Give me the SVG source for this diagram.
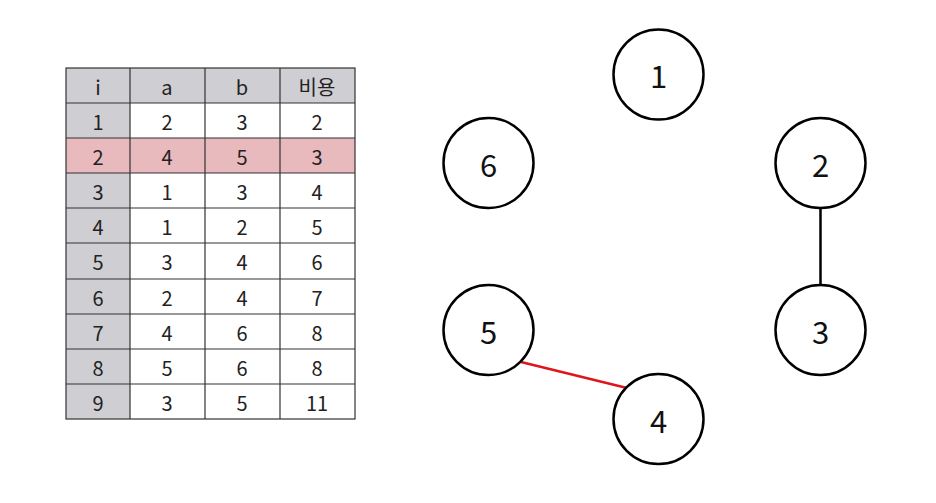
<svg xmlns="http://www.w3.org/2000/svg" width="936" height="503" viewBox="0 0 936 503">
<style>
.t{font-family:"Noto Sans CJK KR","Noto Sans",sans-serif;font-size:20px;fill:#222;text-anchor:middle;dominant-baseline:central}
.n{font-family:"Noto Sans CJK KR","Noto Sans",sans-serif;font-size:31px;fill:#111;text-anchor:middle;dominant-baseline:central}
.c{fill:#fff;stroke:#000;stroke-width:2.5}
.g{fill:#cfced2}
.hl{fill:#e8b9bd}
.grid{stroke:#333;stroke-width:1.2;fill:none}
</style>
<rect width="936" height="503" fill="#fff"/>
<g id="table">
<rect x="66" y="68" width="289" height="35" class="g"/>
<rect x="66" y="103" width="64" height="316" class="g"/>
<rect x="66" y="138" width="289" height="35" class="hl"/>
<g class="grid">
<rect x="66" y="68" width="289" height="351"/>
<path d="M130 68V419M205 68V419M280 68V419"/>
<path d="M66 103H355M66 138H355M66 173H355M66 208H355M66 243H355M66 279H355M66 314H355M66 349H355M66 384H355"/>
</g>
<g class="t">
<text x="98" y="86">i</text><text x="167" y="86">a</text><text x="242" y="86">b</text><text x="317" y="86">비용</text>
<text x="98" y="121">1</text><text x="167" y="121">2</text><text x="242" y="121">3</text><text x="317" y="121">2</text>
<text x="98" y="156">2</text><text x="167" y="156">4</text><text x="242" y="156">5</text><text x="317" y="156">3</text>
<text x="98" y="191">3</text><text x="167" y="191">1</text><text x="242" y="191">3</text><text x="317" y="191">4</text>
<text x="98" y="226">4</text><text x="167" y="226">1</text><text x="242" y="226">2</text><text x="317" y="226">5</text>
<text x="98" y="261">5</text><text x="167" y="261">3</text><text x="242" y="261">4</text><text x="317" y="261">6</text>
<text x="98" y="297">6</text><text x="167" y="297">2</text><text x="242" y="297">4</text><text x="317" y="297">7</text>
<text x="98" y="332">7</text><text x="167" y="332">4</text><text x="242" y="332">6</text><text x="317" y="332">8</text>
<text x="98" y="367">8</text><text x="167" y="367">5</text><text x="242" y="367">6</text><text x="317" y="367">8</text>
<text x="98" y="402">9</text><text x="167" y="402">3</text><text x="242" y="402">5</text><text x="317" y="402">11</text>
</g>
</g>
<g id="edges">
<line x1="820.5" y1="208" x2="820.5" y2="285" stroke="#000" stroke-width="2.5"/>
<line x1="521" y1="362" x2="627" y2="388" stroke="#e0141c" stroke-width="2.5"/>
</g>
<g id="node1"><circle cx="658.5" cy="74.5" r="45" class="c"/><text x="658.5" y="74.5" class="n">1</text></g>
<g id="node2"><circle cx="820.5" cy="163" r="45" class="c"/><text x="820.5" y="163" class="n">2</text></g>
<g id="node3"><circle cx="820.5" cy="330" r="45" class="c"/><text x="820.5" y="330" class="n">3</text></g>
<g id="node4"><circle cx="658.5" cy="419" r="45" class="c"/><text x="658.5" y="419" class="n">4</text></g>
<g id="node5"><circle cx="488.5" cy="330" r="45" class="c"/><text x="488.5" y="330" class="n">5</text></g>
<g id="node6"><circle cx="488.5" cy="163" r="45" class="c"/><text x="488.5" y="163" class="n">6</text></g>
</svg>
